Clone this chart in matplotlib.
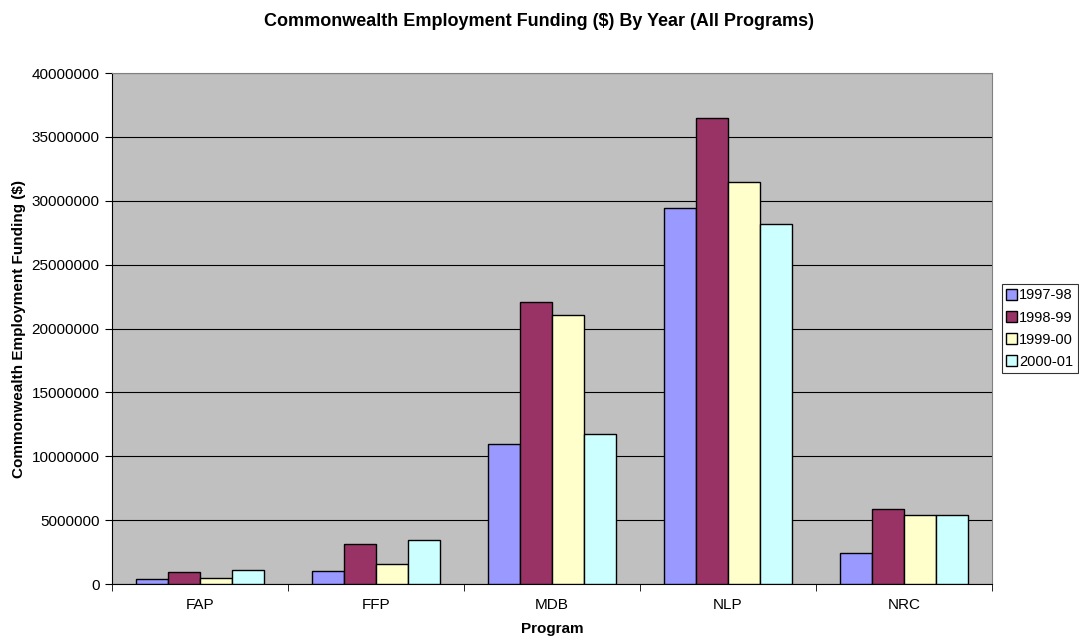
import numpy as np
import matplotlib.pyplot as plt

plt.rcParams['font.family'] = ['Liberation Sans', 'DejaVu Sans']

programs = ['FAP', 'FFP', 'MDB', 'NLP', 'NRC']
years = ['1997-98', '1998-99', '1999-00', '2000-01']
f9798 = [390000, 980000, 10960000, 29400000, 2400000]
f9899 = [960000, 3150000, 22100000, 36500000, 5900000]
f9900 = [500000, 1540000, 21060000, 31450000, 5420000]
f0001 = [1100000, 3440000, 11740000, 28180000, 5420000]
colors = ['#9999FF', '#993366', '#FFFFCC', '#CCFFFF']

series = [f9798, f9899, f9900, f0001]

fig = plt.figure(figsize=(10.79, 6.4), dpi=100)
ax = fig.add_axes([0.1038, 0.0875, 0.8156, 0.7984])
ax.set_facecolor('#C0C0C0')

x = np.arange(len(programs))
w = 0.182
for i in range(4):
    ax.bar(x + (i - 1.5) * w, series[i], w, color=colors[i], edgecolor='black',
           linewidth=1, label=years[i], zorder=3)

ax.set_xlim(-0.5, 4.5)
ax.set_ylim(0, 40000000)
ax.set_yticks(np.arange(0, 40000001, 5000000))
ax.set_yticklabels([str(v) for v in range(0, 40000001, 5000000)], fontsize=11)
ax.yaxis.grid(True, color='black', linewidth=0.8, zorder=0)
ax.set_xticks(x)
ax.set_xticklabels(programs, fontsize=11)
ax.set_xticks(np.arange(-0.5, 5, 1), minor=True)
ax.tick_params(axis='x', which='major', length=0, pad=10)
ax.tick_params(axis='x', which='minor', length=5, direction='out')
ax.tick_params(axis='y', length=5, direction='out', pad=4)

ax.spines['top'].set_color('#808080')
ax.spines['right'].set_color('#808080')

ax.set_xlabel('Program', fontsize=11, fontweight='bold', labelpad=7)
ax.set_ylabel('Commonwealth Employment Funding ($)', fontsize=11, fontweight='bold', labelpad=4)
fig.text(0.5, 0.967, 'Commonwealth Employment Funding ($) By Year (All Programs)',
         ha='center', va='center', fontsize=13, fontweight='bold')

leg = ax.legend(loc='center left', bbox_to_anchor=(1.011, 0.5), fontsize=10.5,
                frameon=True, fancybox=False, edgecolor='black', handlelength=0.75,
                handleheight=0.75, handletextpad=0.15, borderpad=0.3, labelspacing=0.55,
                borderaxespad=0)
leg.get_frame().set_linewidth(0.8)

fig.savefig('out.png', dpi=100)
